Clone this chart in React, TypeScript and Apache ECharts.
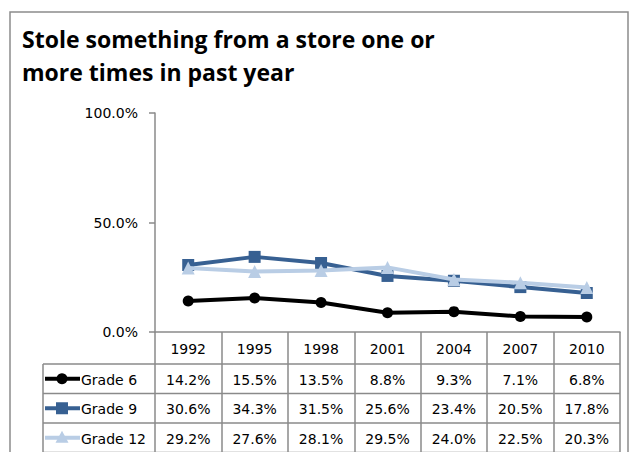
import React, { useEffect, useRef } from "react";
import * as echarts from "echarts";

const titleText = "Stole something from a store one or\nmore times in past year";
const years = ["1992", "1995", "1998", "2001", "2004", "2007", "2010"];
const grade6 = [14.2, 15.5, 13.5, 8.8, 9.3, 7.1, 6.8];
const grade9 = [30.6, 34.3, 31.5, 25.6, 23.4, 20.5, 17.8];
const grade12 = [29.2, 27.6, 28.1, 29.5, 24.0, 22.5, 20.3];
const seriesNames = ["Grade 6", "Grade 9", "Grade 12"];

export default function App() {
  const ref = useRef<HTMLDivElement>(null);
  useEffect(() => {
    const chart = echarts.init(ref.current!, null, { renderer: "svg" });
    const gray = "#8a8a8a";
    const font = "DejaVu Sans";
    const colors = ["#000000", "#376092", "#b9cde5"];
    const symbols = ["circle", "rect", "triangle"];
    const sizes = [11, 12, 13];
    const allData = [grade6, grade9, grade12];

    chart.setOption({
      animation: false,
      backgroundColor: "#ffffff",
      title: {
        text: titleText,
        left: 17,
        top: 17,
        textStyle: {
          fontFamily: "Open Sans",
          fontWeight: "bold",
          fontSize: 23,
          lineHeight: 33,
          color: "#000",
        },
      },
      grid: { left: 155, right: 11, top: 113, bottom: 120 },
      xAxis: {
        type: "category",
        data: years,
        boundaryGap: true,
        axisLine: { show: true, lineStyle: { color: gray, width: 1.5 } },
        axisTick: { show: true, interval: 0, length: 125, lineStyle: { color: gray, width: 1.5 } },
        axisLabel: { margin: 10, fontFamily: font, fontSize: 14, color: "#000" },
        splitLine: { show: false },
      },
      yAxis: {
        type: "value",
        min: 0,
        max: 100,
        interval: 50,
        axisLine: { show: true, lineStyle: { color: gray, width: 1.5 } },
        axisTick: { show: true, length: 6, lineStyle: { color: gray, width: 1.5 } },
        axisLabel: {
          margin: 17,
          fontFamily: font,
          fontSize: 14,
          color: "#000",
          formatter: (v: number) => v.toFixed(1) + "%",
        },
        splitLine: { show: false },
      },
      series: allData.map((d, i) => ({
        type: "line",
        name: seriesNames[i],
        data: d,
        symbol: symbols[i],
        symbolSize: sizes[i],
        lineStyle: { width: 4, color: colors[i] },
        itemStyle: { color: colors[i] },
        z: 2 + i,
      })),
    });

    // data table built from axis positions
    const zeroY = chart.convertToPixel({ yAxisIndex: 0 }, 0) as number;
    const xs = years.map((_, j) => chart.convertToPixel({ xAxisIndex: 0 }, j) as number);
    const band = xs.length > 1 ? xs[1] - xs[0] : 66;
    const rightX = xs[xs.length - 1] + band / 2;
    const leftX = 43;
    const headerH = 32;
    const rowH = 29.5;
    const elems: any[] = [];
    elems.push({
      type: "rect",
      shape: { x: 10, y: 12, width: 618, height: 470 },
      style: { fill: "none", stroke: "#8c8c8c", lineWidth: 1.5 },
      silent: true,
      z: 0,
    });
    for (let r = 0; r <= allData.length; r++) {
      const y = zeroY + headerH + r * rowH;
      elems.push({
        type: "line",
        shape: { x1: leftX, y1: y, x2: rightX, y2: y },
        style: { stroke: gray, lineWidth: 1.5 },
        z: 10,
      });
    }
    elems.push({
      type: "line",
      shape: { x1: leftX, y1: zeroY + headerH, x2: leftX, y2: 470 },
      style: { stroke: gray, lineWidth: 1.5 },
      z: 10,
    });
    allData.forEach((d, i) => {
      const cy = zeroY + headerH + i * rowH + rowH / 2 + 1;
      d.forEach((v, j) => {
        elems.push({
          type: "text",
          x: xs[j],
          y: cy,
          style: {
            text: v.toFixed(1) + "%",
            fontFamily: font,
            fontSize: 14,
            fill: "#000",
            align: "center",
            verticalAlign: "middle",
          },
          z: 10,
        });
      });
      const ly = cy - 1;
      elems.push({
        type: "line",
        shape: { x1: 45, y1: ly, x2: 80, y2: ly },
        style: { stroke: colors[i], lineWidth: 4 },
        z: 10,
      });
      if (i === 0) {
        elems.push({ type: "circle", shape: { cx: 62, cy: ly, r: 5.5 }, style: { fill: colors[i] }, z: 11 });
      } else if (i === 1) {
        elems.push({ type: "rect", shape: { x: 56, y: ly - 6, width: 12, height: 12 }, style: { fill: colors[i] }, z: 11 });
      } else {
        elems.push({
          type: "polygon",
          shape: { points: [[62, ly - 7], [68.5, ly + 5], [55.5, ly + 5]] },
          style: { fill: colors[i] },
          z: 11,
        });
      }
      elems.push({
        type: "text",
        x: 81,
        y: cy,
        style: {
          text: seriesNames[i],
          fontFamily: font,
          fontSize: 14,
          fill: "#000",
          align: "left",
          verticalAlign: "middle",
        },
        z: 10,
      });
    });
    chart.setOption({ graphic: elems });

    return () => chart.dispose();
  }, []);
  return (
    <div
      ref={ref}
      style={{ position: "absolute", left: 0, top: 0, width: 631, height: 452 }}
    />
  );
}
